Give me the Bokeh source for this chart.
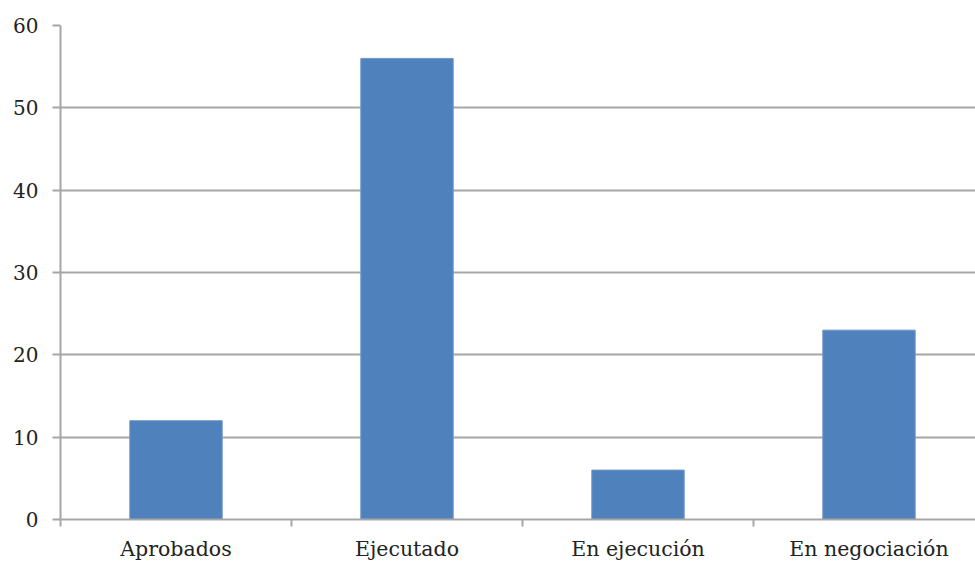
from bokeh.plotting import figure
from bokeh.models import FixedTicker, Range1d
from bokeh.embed import file_html
from bokeh.resources import INLINE

categories = ["Aprobados", "Ejecutado", "En ejecución", "En negociación"]
values = [12, 56, 6, 23]
y_ticks = [0, 10, 20, 30, 40, 50, 60]

FONT = "DejaVu Serif"
GREY = "#a6a6a6"

centers = [i + 0.5 for i in range(len(categories))]
bounds = list(range(len(categories)))

p = figure(width=975, height=563, output_backend="svg", toolbar_location=None,
           x_range=Range1d(0, 915 / 231), y_range=Range1d(0, 60),
           min_border_left=60, min_border_right=0, min_border_top=25, min_border_bottom=44)
p.outline_line_color = None
p.background_fill_color = "white"

p.vbar(x=centers, top=values, width=0.4, bottom=0,
       fill_color="#4f81bd", line_color="#6f97c9", line_width=1)

xa = p.xaxis[0]
xa.ticker = FixedTicker(ticks=centers, minor_ticks=bounds)
xa.major_label_overrides = {c: name for c, name in zip(centers, categories)}
xa.major_tick_out = 0
xa.major_tick_in = 0
xa.minor_tick_out = 7
xa.minor_tick_in = 0
xa.minor_tick_line_color = GREY
xa.axis_line_color = GREY
xa.axis_line_width = 2
xa.minor_tick_line_width = 2
xa.major_label_text_font = FONT
xa.major_label_text_font_size = "20.5px"
xa.major_label_text_color = "#222222"
xa.major_label_standoff = 10

ya = p.yaxis[0]
ya.ticker = FixedTicker(ticks=y_ticks)
ya.minor_tick_line_color = None
ya.major_tick_out = 8
ya.major_tick_in = 0
ya.major_tick_line_color = GREY
ya.major_tick_line_width = 2
ya.axis_line_color = GREY
ya.axis_line_width = 2
ya.major_label_text_font = FONT
ya.major_label_text_font_size = "20px"
ya.major_label_text_color = "#222222"
ya.major_label_standoff = 14

p.xgrid.grid_line_color = None
p.ygrid.ticker = FixedTicker(ticks=y_ticks)
p.ygrid.grid_line_color = GREY
p.ygrid.grid_line_width = 2

open("out.html", "w").write(file_html(p, INLINE))
